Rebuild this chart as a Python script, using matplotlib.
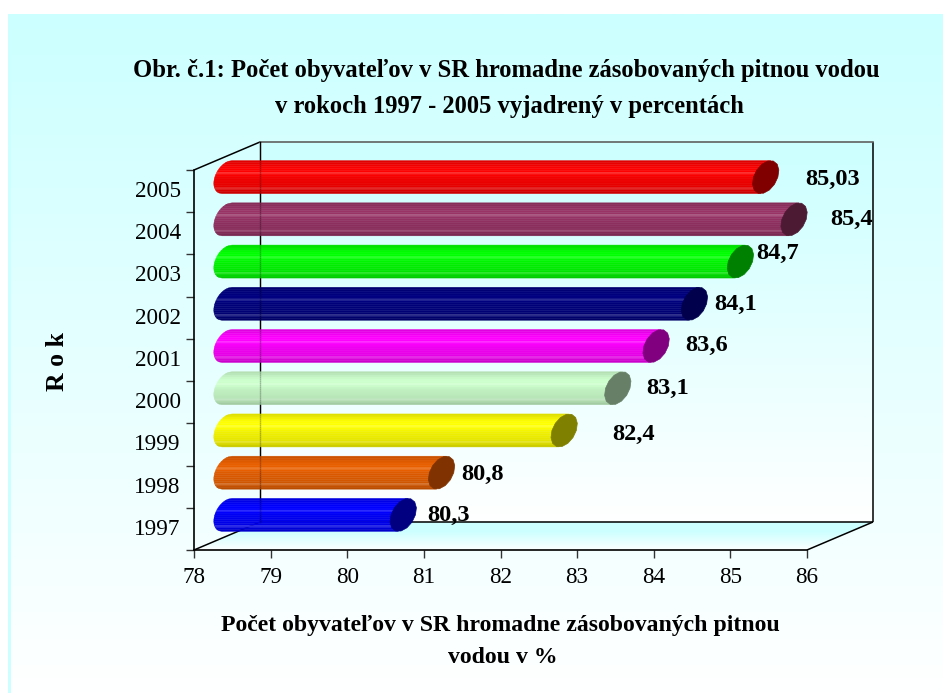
import numpy as np
import matplotlib
matplotlib.use("Agg")
import matplotlib.pyplot as plt
from matplotlib.colors import to_rgb, LinearSegmentedColormap
from matplotlib.patches import Polygon, Rectangle

plt.rcParams['font.family'] = ['Liberation Serif', 'DejaVu Serif']

years = ['1997', '1998', '1999', '2000', '2001', '2002', '2003', '2004', '2005']
values = [80.3, 80.8, 82.4, 83.1, 83.6, 84.1, 84.7, 85.4, 85.03]
value_labels = ['80,3', '80,8', '82,4', '83,1', '83,6', '84,1', '84,7', '85,4', '85,03']
x_ticks = [78, 79, 80, 81, 82, 83, 84, 85, 86]

bar_colors = ['#0000ff', '#e85f00', '#ffff00', '#ccffcc', '#ff00ff',
              '#000080', '#00ff00', '#993366', '#ff0000']
cap_colors = ['#000080', '#803300', '#808000', '#667f66', '#800080',
              '#00004d', '#008000', '#4d1a33', '#800000']
# hand placed labels in the original, pixels from the end of the bar
label_shift = [(24, -1), (20, -2), (48, -4), (28, 0), (29, 1),
               (20, -1), (16, 8), (36, 0), (40, -2)]

W, H = 943, 693
fig = plt.figure(figsize=(W / 100, H / 100), dpi=100, facecolor='white')


def px_rect(left, top, right, bottom):
    return [left / W, 1 - bottom / H, (right - left) / W, (bottom - top) / H]


cyan_white = LinearSegmentedColormap.from_list('cw', ['#ccffff', '#ffffff'])
grad = np.linspace(0, 1, 256).reshape(-1, 1)

# page background
bg = fig.add_axes(px_rect(8, 14, W, H), zorder=0)
bg.imshow(grad, cmap=cyan_white, aspect='auto')
bg.axis('off')
fig.add_artist(Rectangle((8 / W, 0), 3 / W, 1 - 14 / H, transform=fig.transFigure,
                         fc='#ccffff', ec='none', zorder=0.5))

ax = fig.add_axes(px_rect(194, 170, 807, 550), zorder=1)
ax.patch.set_alpha(0)

# depth of the fake 3d box, in data units
depth_x = 66 / (613 / 8)
depth_y = 28 / (380 / 9)
x0, x1 = 78, 86
y0, y1 = 0, 9

# back wall
ax.imshow(grad, cmap=cyan_white, aspect='auto', clip_on=False, zorder=1,
          extent=(x0 + depth_x, x1 + depth_x, y0 + depth_y, y1 + depth_y))
ax.set_xlim(78, 86)
ax.set_ylim(0, 9)

# floor, cyan at the back going to white at the front
n_strips = 28
for k in range(n_strips):
    f0 = k / n_strips
    f1 = (k + 1) / n_strips
    col = cyan_white(max(0, (1 - f1 - 0.3) / 0.7))
    ax.add_patch(Polygon([(x0 + depth_x * f0, y0 + depth_y * f0), (x1 + depth_x * f0, y0 + depth_y * f0),
                          (x1 + depth_x * f1, y0 + depth_y * f1), (x0 + depth_x * f1, y0 + depth_y * f1)],
                         closed=True, fc=col, ec=col, lw=0.2, clip_on=False, zorder=1.5))

line = dict(color='black', lw=1.1, clip_on=False, zorder=2, solid_capstyle='butt')
ax.plot([x0, x0 + depth_x], [y1, y1 + depth_y], **line)
ax.plot([x0, x0 + depth_x], [y0, y0 + depth_y], **line)
ax.plot([x1, x1 + depth_x], [y0, y0 + depth_y], **line)
ax.plot([x0 + depth_x, x1 + depth_x], [y0 + depth_y, y0 + depth_y], **line)
ax.plot([x1 + depth_x, x1 + depth_x], [y0 + depth_y, y1 + depth_y], **line)
ax.plot([x0 + depth_x, x1 + depth_x], [y1 + depth_y, y1 + depth_y],
        color='#606060', lw=1.2, clip_on=False, zorder=2)

# cylinder shape, sheared ellipse
rad_y = 16.5 / (380 / 9)
rad_x = 12.2 / (613 / 8)
shear = 5 / (613 / 8)
shades = np.array([0.88, 0.91, 0.95, 0.98, 1.0, 1.0, 1.0, 0.99, 0.96, 0.94, 0.93, 0.92,
                   0.91, 0.9, 0.88, 0.85, 0.8])
shine_rows = [6, 14]


def ellipse(cx, cy, n=14):
    t = np.linspace(0, 2 * np.pi, n, endpoint=False)
    return np.column_stack([cx + rad_x * np.cos(t) + shear * np.sin(t), cy + rad_y * np.sin(t)])


def draw_cylinder(val, pos, color, cap):
    cx0 = x0 + depth_x / 2
    cx1 = val + depth_x / 2
    cy = pos + 0.5 + depth_y / 2
    rgb = np.array(to_rgb(color))
    n = len(shades)
    edges = np.linspace(1, -1, n + 1)
    for i in range(n):
        u = np.linspace(edges[i], edges[i + 1], 4)
        left = cx0 + shear * u - rad_x * np.sqrt(1 - u ** 2)
        right = cx1 + shear * u
        pts = np.vstack([np.column_stack([left, cy + rad_y * u]),
                         np.column_stack([right[::-1], cy + rad_y * u[::-1]])])
        c = rgb * shades[i]
        if i in shine_rows:
            c = c + (1 - c) * 0.16
        ax.add_patch(Polygon(pts, closed=True, fc=c, ec=c, lw=0.3, clip_on=False, zorder=3))
    ax.add_patch(Polygon(ellipse(cx1, cy), closed=True, fc=cap, ec=cap, lw=0.5, clip_on=False, zorder=4))


for i in range(len(years)):
    draw_cylinder(values[i], i, bar_colors[i], cap_colors[i])
    ax.annotate(value_labels[i], xy=(values[i] + depth_x / 2, i + 0.5 + depth_y / 2),
                xytext=label_shift[i], textcoords='offset pixels', ha='left', va='center',
                fontsize=17.6, fontweight='bold', color='black', zorder=6, annotation_clip=False)

# back wall edge, faint where it shows through the bars
ax.plot([x0 + depth_x, x0 + depth_x], [y0 + depth_y, y1 + depth_y], color='black', lw=1.0,
        alpha=0.2, clip_on=False, zorder=5)
ax.plot([x0 + depth_x, x0 + depth_x], [y0 + depth_y, y1 + depth_y], color='black', lw=1.0,
        clip_on=False, zorder=2)

for s in ['top', 'right']:
    ax.spines[s].set_visible(False)
for s in ['left', 'bottom']:
    ax.spines[s].set_linewidth(1.2)

ax.set_xticks(x_ticks)
ax.set_xticklabels([str(v) for v in x_ticks], fontsize=16.7)
ax.set_yticks(range(10))
ax.set_yticklabels([])
ax.set_yticks(np.arange(9) + 0.55, labels=years, minor=True, fontsize=16.7)
ax.tick_params(axis='y', which='minor', length=0, pad=9.5)
ax.tick_params(axis='both', which='major', length=6, width=1, color='#333333')
ax.tick_params(axis='x', pad=6)

fig.text(506 / W, 1 - 70.5 / H, 'Obr. č.1: Počet obyvateľov v SR hromadne zásobovaných pitnou vodou',
         ha='center', va='center', fontsize=17.7, fontweight='bold')
fig.text(509 / W, 1 - 106.5 / H, 'v rokoch 1997 - 2005 vyjadrený v percentách',
         ha='center', va='center', fontsize=17.7, fontweight='bold')
fig.text(57 / W, 1 - 362 / H, 'R o k', rotation=90, ha='center', va='center',
         fontsize=18.5, fontweight='bold')
fig.text(500 / W, 1 - 625.5 / H, 'Počet obyvateľov v SR hromadne zásobovaných pitnou',
         ha='center', va='center', fontsize=17.1, fontweight='bold')
fig.text(503 / W, 1 - 657.5 / H, 'vodou v %', ha='center', va='center', fontsize=17.1, fontweight='bold')

fig.savefig('out.png', dpi=100)
